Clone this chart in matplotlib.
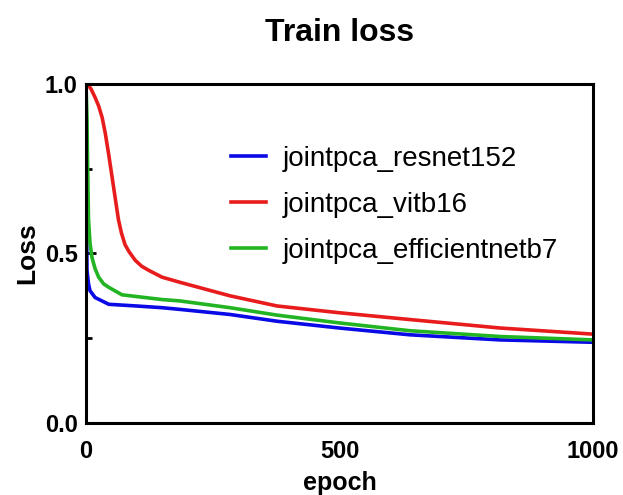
import matplotlib
matplotlib.use("Agg")
import matplotlib.pyplot as plt
from matplotlib.ticker import MultipleLocator

plt.rcParams["font.family"] = ["Liberation Sans", "DejaVu Sans"]

# values
ep_resnet = [0, 1, 2, 5, 8, 18, 45, 100, 150, 185, 284, 377, 500, 639, 817, 1000]
loss_resnet = [0.89, 0.60, 0.45, 0.41, 0.39, 0.37, 0.35, 0.345, 0.34, 0.335,
               0.32, 0.30, 0.28, 0.26, 0.245, 0.238]

ep_vit = [0, 5, 10, 18, 25, 32, 38, 45, 50, 55, 60, 64, 70, 77, 85, 97, 110,
          124, 150, 185, 284, 377, 500, 639, 817, 1000]
loss_vit = [1.0, 0.995, 0.985, 0.96, 0.935, 0.90, 0.855, 0.79, 0.74, 0.69,
            0.64, 0.60, 0.56, 0.526, 0.505, 0.48, 0.462, 0.45, 0.43, 0.415,
            0.375, 0.345, 0.325, 0.305, 0.28, 0.262]

ep_eff = [0, 2, 3, 5, 8, 12, 18, 25, 35, 45, 71, 150, 185, 284, 377, 500, 639,
          817, 1000]
loss_eff = [1.0, 0.90, 0.78, 0.60, 0.53, 0.487, 0.455, 0.43, 0.41, 0.40, 0.378,
            0.364, 0.36, 0.34, 0.318, 0.295, 0.272, 0.255, 0.245]

names = ["jointpca_resnet152", "jointpca_vitb16", "jointpca_efficientnetb7"]
colors = ["#0a0ae6", "#e81c1c", "#22b422"]

fig = plt.figure(figsize=(6.23, 4.95), dpi=100)
ax = fig.add_axes([0.138, 0.1455, 0.814, 0.685])

for x, y, nm, c in zip([ep_resnet, ep_vit, ep_eff], [loss_resnet, loss_vit, loss_eff],
                       names, colors):
    ax.plot(x, y, color=c, lw=2.6, label=nm)

ax.set_xlim(0, 1000)
ax.set_ylim(0, 1.0)
ax.set_xticks([0, 500, 1000])
ax.set_yticks([0, 0.5, 1.0])
ax.set_yticklabels(["0.0", "0.5", "1.0"])
ax.yaxis.set_minor_locator(MultipleLocator(0.25))
ax.tick_params(axis="y", which="major", direction="in", length=7, width=2, pad=6,
               labelsize=17)
ax.tick_params(axis="y", which="minor", direction="in", length=4, width=2)
ax.tick_params(axis="x", length=0, pad=12, labelsize=17)
for lab in ax.get_xticklabels() + ax.get_yticklabels():
    lab.set_fontweight("bold")
for s in ax.spines.values():
    s.set_linewidth(2.2)

ax.set_xlabel("epoch", fontsize=18, fontweight="bold", labelpad=6)
ax.set_ylabel("Loss", fontsize=19, fontweight="bold", labelpad=4)
ax.set_title("Train loss", fontsize=23, fontweight="bold", pad=31)

ax.legend(loc="upper left", bbox_to_anchor=(0.265, 0.85), frameon=False,
          fontsize=20, handlelength=1.25, handletextpad=0.6, labelspacing=0.72,
          borderaxespad=0)

fig.savefig("out.png", dpi=100)
